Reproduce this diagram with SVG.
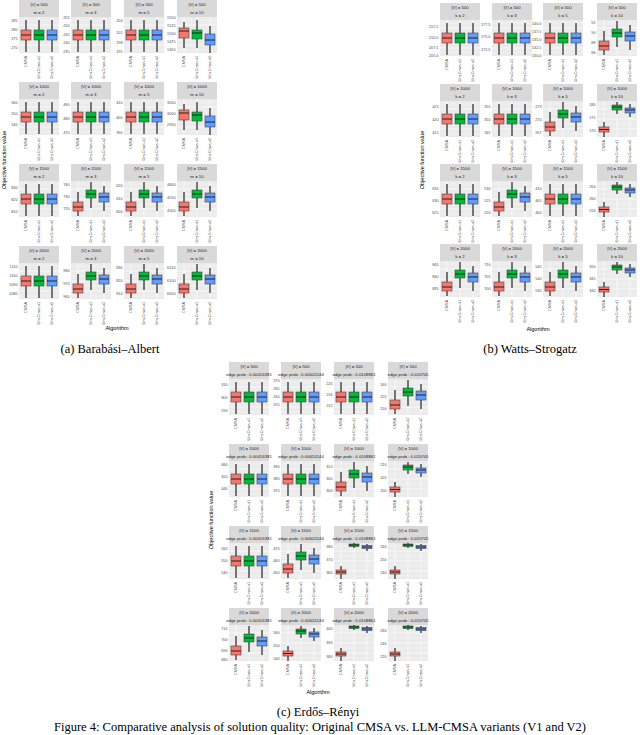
<svg xmlns="http://www.w3.org/2000/svg" xmlns:xlink="http://www.w3.org/1999/xlink" width="640" height="735" viewBox="0 0 640 735">
<style>
text{font-family:"Liberation Sans",Arial,sans-serif;fill:#4d4d4d}
.s{font-size:4.3px;text-anchor:middle;fill:#1a1a1a}
.t{font-size:3.8px;text-anchor:end}
.x{font-size:3.8px;text-anchor:end}
.a{font-size:5.5px;fill:#000}
.c{font-family:"Liberation Serif","Times New Roman",serif;font-size:12.5px;fill:#000;text-anchor:middle}
.w{stroke:#555;stroke-width:1.6;fill:none}
.m{stroke:#222;stroke-width:1;fill:none}
.R,.G,.B{stroke:#444;stroke-width:0.6}
.R{fill:#F8766D}.G{fill:#00BA38}.B{fill:#619CFF}
</style>
<defs>
<g id="bg">
<rect x="0" y="0" width="40" height="17" fill="#d9d9d9"/>
<rect x="0" y="17" width="40" height="36" fill="#ebebeb"/>
<path d="M0 25H40M0 35H40M0 45H40M7 17V53M20 17V53M33 17V53" stroke="#fff" stroke-width="0.6"/>
<path d="M0 30H40M0 40H40M0 20H40M0 50H40" stroke="#fff" stroke-width="0.3"/>
<text class="x" transform="translate(8.3,56) rotate(-90)">CMSA</text>
<text class="x" transform="translate(21.3,56) rotate(-90)">Llm-Cmsa-v1</text>
<text class="x" transform="translate(34.3,56) rotate(-90)">Llm-Cmsa-v2</text>
</g>
<g id="eq">
<path class="w" d="M7 20V52M20 20V52M33 20V52"/>
<rect class="R" x="2" y="30" width="10" height="10"/><path class="m" d="M2 35h10"/>
<rect class="G" x="15" y="30" width="10" height="10"/><path class="m" d="M15 35h10"/>
<rect class="B" x="28" y="30" width="10" height="10"/><path class="m" d="M28 35h10"/>
</g>
<g id="up">
<path class="w" d="M7 28V52M20 18V44M33 22V47"/>
<rect class="R" x="2" y="38" width="10" height="9"/><path class="m" d="M2 43h10"/>
<rect class="G" x="15" y="26" width="10" height="8"/><path class="m" d="M15 30h10"/>
<rect class="B" x="28" y="29" width="10" height="9"/><path class="m" d="M28 33h10"/>
</g>
<g id="dn">
<path class="w" d="M7 22V48M20 20V48M33 26V53"/>
<rect class="R" x="2" y="28" width="10" height="10"/><path class="m" d="M2 31h10"/>
<rect class="G" x="15" y="30" width="10" height="9"/><path class="m" d="M15 33h10"/>
<rect class="B" x="28" y="34" width="10" height="11"/><path class="m" d="M28 40h10"/>
</g>
<g id="up2">
<path class="w" d="M7 38V53M20 18V30M33 20V33"/>
<rect class="R" x="2" y="43" width="10" height="5"/><path class="m" d="M2 45.5h10"/>
<rect class="G" x="15" y="21" width="10" height="5"/><path class="m" d="M15 23h10"/>
<rect class="B" x="28" y="24" width="10" height="5"/><path class="m" d="M28 26h10"/>
</g>
<g id="up3">
<path class="w" d="M7 40V53M20 17V22M33 18V25"/>
<rect class="R" x="2" y="44" width="10" height="4"/><path class="m" d="M2 46h10"/>
<rect class="G" x="15" y="18" width="10" height="2.5"/><path class="m" d="M15 19h10"/>
<rect class="B" x="28" y="19.5" width="10" height="3"/><path class="m" d="M28 21h10"/>
</g>
</defs>

<!-- (a) Barabasi-Albert -->
<g id="ba">
<text class="a" transform="translate(6,160) rotate(-90)" text-anchor="middle">Objective function value</text>
<text class="a" x="117" y="330" text-anchor="middle">Algorithm</text>
<text class="c" x="110" y="353">(a) Barabási–Albert</text>
<g id="ba11" transform="translate(19,0)"><use xlink:href="#bg"/><text class="s" x="20" y="6">|V| = 500</text><text class="s" x="20" y="14">m = 2</text><use xlink:href="#eq"/><text class="t" x="-1.5" y="22">285</text><text class="t" x="-1.5" y="31">280</text><text class="t" x="-1.5" y="40">275</text><text class="t" x="-1.5" y="49">270</text></g>
<g id="ba12" transform="translate(71,0)"><use xlink:href="#bg"/><text class="s" x="20" y="6">|V| = 500</text><text class="s" x="20" y="14">m = 3</text><use xlink:href="#eq"/><text class="t" x="-1.5" y="19">255</text><text class="t" x="-1.5" y="27">250</text><text class="t" x="-1.5" y="36">245</text><text class="t" x="-1.5" y="44">240</text><text class="t" x="-1.5" y="53">235</text></g>
<g id="ba13" transform="translate(124,0)"><use xlink:href="#bg"/><text class="s" x="20" y="6">|V| = 500</text><text class="s" x="20" y="14">m = 5</text><use xlink:href="#eq"/><text class="t" x="-1.5" y="22">204</text><text class="t" x="-1.5" y="34">201</text><text class="t" x="-1.5" y="44">198</text><text class="t" x="-1.5" y="53">195</text></g>
<g id="ba14" transform="translate(177,0)"><use xlink:href="#bg"/><text class="s" x="20" y="6">|V| = 500</text><text class="s" x="20" y="14">m = 10</text><use xlink:href="#dn"/><text class="t" x="-1.5" y="19">1550</text><text class="t" x="-1.5" y="27">1525</text><text class="t" x="-1.5" y="35">1500</text><text class="t" x="-1.5" y="43">1475</text><text class="t" x="-1.5" y="51">1450</text></g>

<g id="ba21" transform="translate(19,82)"><use xlink:href="#bg"/><text class="s" x="20" y="6">|V| = 1000</text><text class="s" x="20" y="14">m = 2</text><use xlink:href="#eq"/><text class="t" x="-1.5" y="22">560</text><text class="t" x="-1.5" y="33">550</text><text class="t" x="-1.5" y="44">540</text></g>
<g id="ba22" transform="translate(71,82)"><use xlink:href="#bg"/><text class="s" x="20" y="6">|V| = 1000</text><text class="s" x="20" y="14">m = 3</text><use xlink:href="#eq"/><text class="t" x="-1.5" y="24">490</text><text class="t" x="-1.5" y="38">480</text><text class="t" x="-1.5" y="52">470</text></g>
<g id="ba23" transform="translate(124,82)"><use xlink:href="#bg"/><text class="s" x="20" y="6">|V| = 1000</text><text class="s" x="20" y="14">m = 5</text><use xlink:href="#eq"/><text class="t" x="-1.5" y="22">410</text><text class="t" x="-1.5" y="37">400</text><text class="t" x="-1.5" y="52">390</text></g>
<g id="ba24" transform="translate(177,82)"><use xlink:href="#bg"/><text class="s" x="20" y="6">|V| = 1000</text><text class="s" x="20" y="14">m = 10</text><use xlink:href="#dn"/><text class="t" x="-1.5" y="22">3050</text><text class="t" x="-1.5" y="33">3000</text><text class="t" x="-1.5" y="44">2950</text></g>

<g id="ba31" transform="translate(19,164)"><use xlink:href="#bg"/><text class="s" x="20" y="6">|V| = 1500</text><text class="s" x="20" y="14">m = 2</text><use xlink:href="#eq"/><text class="t" x="-1.5" y="25">830</text><text class="t" x="-1.5" y="37">820</text><text class="t" x="-1.5" y="49">810</text></g>
<g id="ba32" transform="translate(71,164)"><use xlink:href="#bg"/><text class="s" x="20" y="6">|V| = 1500</text><text class="s" x="20" y="14">m = 3</text><use xlink:href="#up"/><text class="t" x="-1.5" y="22">740</text><text class="t" x="-1.5" y="34">730</text><text class="t" x="-1.5" y="46">720</text></g>
<g id="ba33" transform="translate(124,164)"><use xlink:href="#bg"/><text class="s" x="20" y="6">|V| = 1500</text><text class="s" x="20" y="14">m = 5</text><use xlink:href="#up"/><text class="t" x="-1.5" y="23">620</text><text class="t" x="-1.5" y="36">610</text><text class="t" x="-1.5" y="49">600</text></g>
<g id="ba34" transform="translate(177,164)"><use xlink:href="#bg"/><text class="s" x="20" y="6">|V| = 1500</text><text class="s" x="20" y="14">m = 10</text><use xlink:href="#up"/><text class="t" x="-1.5" y="22">4600</text><text class="t" x="-1.5" y="35">4550</text><text class="t" x="-1.5" y="48">4500</text></g>

<g id="ba41" transform="translate(19,246)"><use xlink:href="#bg"/><text class="s" x="20" y="6">|V| = 2000</text><text class="s" x="20" y="14">m = 2</text><use xlink:href="#eq"/><text class="t" x="-1.5" y="22">1110</text><text class="t" x="-1.5" y="31">1100</text><text class="t" x="-1.5" y="40">1090</text><text class="t" x="-1.5" y="49">1080</text></g>
<g id="ba42" transform="translate(71,246)"><use xlink:href="#bg"/><text class="s" x="20" y="6">|V| = 2000</text><text class="s" x="20" y="14">m = 3</text><use xlink:href="#up"/><text class="t" x="-1.5" y="26">980</text><text class="t" x="-1.5" y="39">970</text><text class="t" x="-1.5" y="52">960</text></g>
<g id="ba43" transform="translate(124,246)"><use xlink:href="#bg"/><text class="s" x="20" y="6">|V| = 2000</text><text class="s" x="20" y="14">m = 5</text><use xlink:href="#up"/><text class="t" x="-1.5" y="23">830</text><text class="t" x="-1.5" y="36">820</text><text class="t" x="-1.5" y="49">810</text></g>
<g id="ba44" transform="translate(177,246)"><use xlink:href="#bg"/><text class="s" x="20" y="6">|V| = 2000</text><text class="s" x="20" y="14">m = 10</text><use xlink:href="#up"/><text class="t" x="-1.5" y="23">6150</text><text class="t" x="-1.5" y="36">6100</text><text class="t" x="-1.5" y="49">6050</text></g>
</g>

<!-- (b) Watts-Strogatz -->
<g id="ws">
<text class="a" transform="translate(424,160) rotate(-90)" text-anchor="middle">Objective function value</text>
<text class="a" x="538" y="331" text-anchor="middle">Algorithm</text>
<text class="c" x="530" y="353">(b) Watts–Strogatz</text>
<g id="ws11" transform="translate(440,3)"><use xlink:href="#bg"/><text class="s" x="20" y="6">|V| = 500</text><text class="s" x="20" y="14">k = 2</text><use xlink:href="#eq"/><text class="t" x="-1.5" y="25">212.5</text><text class="t" x="-1.5" y="36">210.0</text><text class="t" x="-1.5" y="46">207.5</text><text class="t" x="-1.5" y="54">205.0</text></g>
<g id="ws12" transform="translate(492,3)"><use xlink:href="#bg"/><text class="s" x="20" y="6">|V| = 500</text><text class="s" x="20" y="14">k = 3</text><use xlink:href="#eq"/><text class="t" x="-1.5" y="23">177.5</text><text class="t" x="-1.5" y="35">175.0</text><text class="t" x="-1.5" y="48">172.5</text></g>
<g id="ws13" transform="translate(543,3)"><use xlink:href="#bg"/><text class="s" x="20" y="6">|V| = 500</text><text class="s" x="20" y="14">k = 5</text><use xlink:href="#eq"/><text class="t" x="-1.5" y="22">140.0</text><text class="t" x="-1.5" y="30">137.5</text><text class="t" x="-1.5" y="38">135.0</text><text class="t" x="-1.5" y="46">132.5</text><text class="t" x="-1.5" y="54">130.0</text></g>
<g id="ws14" transform="translate(597,3)"><use xlink:href="#bg"/><text class="s" x="20" y="6">|V| = 500</text><text class="s" x="20" y="14">k = 10</text><use xlink:href="#up"/><text class="t" x="-1.5" y="21">92</text><text class="t" x="-1.5" y="31">90</text><text class="t" x="-1.5" y="41">88</text><text class="t" x="-1.5" y="51">86</text></g>

<g id="ws21" transform="translate(440,84)"><use xlink:href="#bg"/><text class="s" x="20" y="6">|V| = 1000</text><text class="s" x="20" y="14">k = 2</text><use xlink:href="#eq"/><text class="t" x="-1.5" y="24">425</text><text class="t" x="-1.5" y="37">420</text><text class="t" x="-1.5" y="50">415</text></g>
<g id="ws22" transform="translate(492,84)"><use xlink:href="#bg"/><text class="s" x="20" y="6">|V| = 1000</text><text class="s" x="20" y="14">k = 3</text><use xlink:href="#eq"/><text class="t" x="-1.5" y="24">355</text><text class="t" x="-1.5" y="37">350</text><text class="t" x="-1.5" y="50">345</text></g>
<g id="ws23" transform="translate(543,84)"><use xlink:href="#bg"/><text class="s" x="20" y="6">|V| = 1000</text><text class="s" x="20" y="14">k = 5</text><use xlink:href="#up"/><text class="t" x="-1.5" y="24">273</text><text class="t" x="-1.5" y="37">270</text><text class="t" x="-1.5" y="50">267</text></g>
<g id="ws24" transform="translate(597,84)"><use xlink:href="#bg"/><text class="s" x="20" y="6">|V| = 1000</text><text class="s" x="20" y="14">k = 10</text><use xlink:href="#up2"/><text class="t" x="-1.5" y="22">180</text><text class="t" x="-1.5" y="35">175</text><text class="t" x="-1.5" y="48">170</text></g>

<g id="ws31" transform="translate(440,164)"><use xlink:href="#bg"/><text class="s" x="20" y="6">|V| = 1500</text><text class="s" x="20" y="14">k = 2</text><use xlink:href="#eq"/><text class="t" x="-1.5" y="26">635</text><text class="t" x="-1.5" y="38">630</text><text class="t" x="-1.5" y="50">625</text></g>
<g id="ws32" transform="translate(492,164)"><use xlink:href="#bg"/><text class="s" x="20" y="6">|V| = 1500</text><text class="s" x="20" y="14">k = 3</text><use xlink:href="#up"/><text class="t" x="-1.5" y="26">530</text><text class="t" x="-1.5" y="38">525</text><text class="t" x="-1.5" y="50">520</text></g>
<g id="ws33" transform="translate(543,164)"><use xlink:href="#bg"/><text class="s" x="20" y="6">|V| = 1500</text><text class="s" x="20" y="14">k = 5</text><use xlink:href="#eq"/><text class="t" x="-1.5" y="26">410</text><text class="t" x="-1.5" y="38">405</text><text class="t" x="-1.5" y="50">400</text></g>
<g id="ws34" transform="translate(597,164)"><use xlink:href="#bg"/><text class="s" x="20" y="6">|V| = 1500</text><text class="s" x="20" y="14">k = 10</text><use xlink:href="#up2"/><text class="t" x="-1.5" y="24">264</text><text class="t" x="-1.5" y="36">260</text><text class="t" x="-1.5" y="48">256</text></g>

<g id="ws41" transform="translate(440,244)"><use xlink:href="#bg"/><text class="s" x="20" y="6">|V| = 2000</text><text class="s" x="20" y="14">k = 2</text><use xlink:href="#up"/><text class="t" x="-1.5" y="22">845</text><text class="t" x="-1.5" y="34">840</text><text class="t" x="-1.5" y="46">835</text></g>
<g id="ws42" transform="translate(492,244)"><use xlink:href="#bg"/><text class="s" x="20" y="6">|V| = 2000</text><text class="s" x="20" y="14">k = 3</text><use xlink:href="#up"/><text class="t" x="-1.5" y="22">710</text><text class="t" x="-1.5" y="34">705</text><text class="t" x="-1.5" y="46">700</text></g>
<g id="ws43" transform="translate(543,244)"><use xlink:href="#bg"/><text class="s" x="20" y="6">|V| = 2000</text><text class="s" x="20" y="14">k = 5</text><use xlink:href="#up"/><text class="t" x="-1.5" y="24">545</text><text class="t" x="-1.5" y="36">540</text><text class="t" x="-1.5" y="48">535</text></g>
<g id="ws44" transform="translate(597,244)"><use xlink:href="#bg"/><text class="s" x="20" y="6">|V| = 2000</text><text class="s" x="20" y="14">k = 10</text><use xlink:href="#up2"/><text class="t" x="-1.5" y="24">350</text><text class="t" x="-1.5" y="36">345</text><text class="t" x="-1.5" y="48">340</text></g>
</g>

<!-- (c) Erdos-Renyi -->
<g id="er">
<text class="a" transform="translate(213,520) rotate(-90)" text-anchor="middle">Objective function value</text>
<text class="a" x="318" y="694" text-anchor="middle">Algorithm</text>
<text class="c" x="318" y="716">(c) Erdős–Rényi</text>
<g id="er11" transform="translate(229,362)"><use xlink:href="#bg"/><text class="s" x="20" y="6">|V| = 500</text><text class="s" x="20" y="14">edge prob.: 0.00416381</text><use xlink:href="#eq"/><text class="t" x="-1.5" y="24">310</text><text class="t" x="-1.5" y="37">300</text><text class="t" x="-1.5" y="50">290</text></g>
<g id="er12" transform="translate(281,362)"><use xlink:href="#bg"/><text class="s" x="20" y="6">|V| = 500</text><text class="s" x="20" y="14">edge prob.: 0.00624144</text><use xlink:href="#eq"/><text class="t" x="-1.5" y="20">270</text><text class="t" x="-1.5" y="28">265</text><text class="t" x="-1.5" y="36">260</text><text class="t" x="-1.5" y="44">255</text></g>
<g id="er13" transform="translate(334,362)"><use xlink:href="#bg"/><text class="s" x="20" y="6">|V| = 500</text><text class="s" x="20" y="14">edge prob.: 0.0108861</text><use xlink:href="#eq"/><text class="t" x="-1.5" y="23">220</text><text class="t" x="-1.5" y="34">216</text><text class="t" x="-1.5" y="45">212</text></g>
<g id="er14" transform="translate(388,362)"><use xlink:href="#bg"/><text class="s" x="20" y="6">|V| = 500</text><text class="s" x="20" y="14">edge prob.: 0.020705</text><use xlink:href="#up"/><text class="t" x="-1.5" y="24">160</text><text class="t" x="-1.5" y="36">155</text><text class="t" x="-1.5" y="48">150</text></g>

<g id="er21" transform="translate(229,444)"><use xlink:href="#bg"/><text class="s" x="20" y="6">|V| = 1000</text><text class="s" x="20" y="14">edge prob.: 0.00416381</text><use xlink:href="#eq"/><text class="t" x="-1.5" y="22">460</text><text class="t" x="-1.5" y="34">450</text><text class="t" x="-1.5" y="46">440</text></g>
<g id="er22" transform="translate(281,444)"><use xlink:href="#bg"/><text class="s" x="20" y="6">|V| = 1000</text><text class="s" x="20" y="14">edge prob.: 0.00624144</text><use xlink:href="#eq"/><text class="t" x="-1.5" y="24">390</text><text class="t" x="-1.5" y="36">380</text><text class="t" x="-1.5" y="48">370</text></g>
<g id="er23" transform="translate(334,444)"><use xlink:href="#bg"/><text class="s" x="20" y="6">|V| = 1000</text><text class="s" x="20" y="14">edge prob.: 0.0108861</text><use xlink:href="#up"/><text class="t" x="-1.5" y="24">310</text><text class="t" x="-1.5" y="36">305</text><text class="t" x="-1.5" y="48">300</text></g>
<g id="er24" transform="translate(388,444)"><use xlink:href="#bg"/><text class="s" x="20" y="6">|V| = 1000</text><text class="s" x="20" y="14">edge prob.: 0.020705</text><use xlink:href="#up2"/><text class="t" x="-1.5" y="22">210</text><text class="t" x="-1.5" y="35">205</text><text class="t" x="-1.5" y="48">200</text></g>

<g id="er31" transform="translate(229,526)"><use xlink:href="#bg"/><text class="s" x="20" y="6">|V| = 1500</text><text class="s" x="20" y="14">edge prob.: 0.00416381</text><use xlink:href="#eq"/><text class="t" x="-1.5" y="24">560</text><text class="t" x="-1.5" y="36">550</text><text class="t" x="-1.5" y="48">540</text></g>
<g id="er32" transform="translate(281,526)"><use xlink:href="#bg"/><text class="s" x="20" y="6">|V| = 1500</text><text class="s" x="20" y="14">edge prob.: 0.00624144</text><use xlink:href="#up"/><text class="t" x="-1.5" y="24">470</text><text class="t" x="-1.5" y="36">460</text><text class="t" x="-1.5" y="48">450</text></g>
<g id="er33" transform="translate(334,526)"><use xlink:href="#bg"/><text class="s" x="20" y="6">|V| = 1500</text><text class="s" x="20" y="14">edge prob.: 0.0108861</text><use xlink:href="#up3"/><text class="t" x="-1.5" y="22">380</text><text class="t" x="-1.5" y="35">370</text><text class="t" x="-1.5" y="48">360</text></g>
<g id="er34" transform="translate(388,526)"><use xlink:href="#bg"/><text class="s" x="20" y="6">|V| = 1500</text><text class="s" x="20" y="14">edge prob.: 0.020705</text><use xlink:href="#up3"/><text class="t" x="-1.5" y="22">260</text><text class="t" x="-1.5" y="35">250</text><text class="t" x="-1.5" y="48">240</text></g>

<g id="er41" transform="translate(229,608)"><use xlink:href="#bg"/><text class="s" x="20" y="6">|V| = 2000</text><text class="s" x="20" y="14">edge prob.: 0.00416381</text><use xlink:href="#up"/><text class="t" x="-1.5" y="22">710</text><text class="t" x="-1.5" y="33">700</text><text class="t" x="-1.5" y="44">690</text><text class="t" x="-1.5" y="53">680</text></g>
<g id="er42" transform="translate(281,608)"><use xlink:href="#bg"/><text class="s" x="20" y="6">|V| = 2000</text><text class="s" x="20" y="14">edge prob.: 0.00624144</text><use xlink:href="#up2"/><text class="t" x="-1.5" y="26">560</text><text class="t" x="-1.5" y="39">550</text><text class="t" x="-1.5" y="52">540</text></g>
<g id="er43" transform="translate(334,608)"><use xlink:href="#bg"/><text class="s" x="20" y="6">|V| = 2000</text><text class="s" x="20" y="14">edge prob.: 0.0108861</text><use xlink:href="#up3"/><text class="t" x="-1.5" y="22">400</text><text class="t" x="-1.5" y="36">390</text><text class="t" x="-1.5" y="50">380</text></g>
<g id="er44" transform="translate(388,608)"><use xlink:href="#bg"/><text class="s" x="20" y="6">|V| = 2000</text><text class="s" x="20" y="14">edge prob.: 0.020705</text><use xlink:href="#up3"/><text class="t" x="-1.5" y="24">260</text><text class="t" x="-1.5" y="37">240</text><text class="t" x="-1.5" y="50">220</text></g>
</g>

<text class="c" x="320" y="731">Figure 4: Comparative analysis of solution quality: Original CMSA vs. LLM-CMSA variants (V1 and V2)</text>
</svg>
